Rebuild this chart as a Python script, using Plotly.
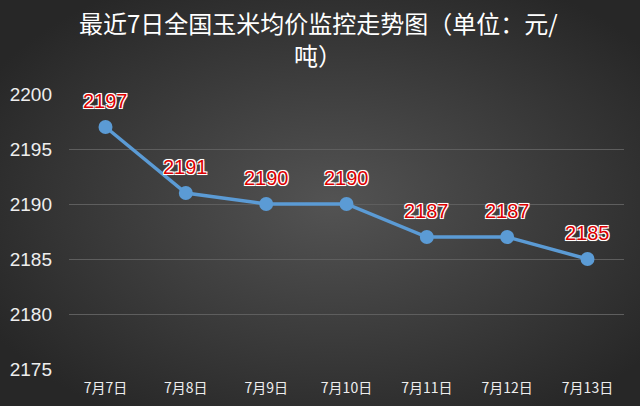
import base64
import plotly.graph_objects as go

# data
dates = ['7月7日', '7月8日', '7月9日', '7月10日', '7月11日', '7月12日', '7月13日']
prices = [2197, 2191, 2190, 2190, 2187, 2187, 2185]
y_ticks = [2175, 2180, 2185, 2190, 2195, 2200]
title_lines = ['最近7日全国玉米均价监控走势图（单位：元/', '吨）']

W, H = 640, 406
L, R, T, B = 69, 16, 94, 37
pw, ph = W - L - R, H - T - B

# dark radial backdrop, done as an inline svg image behind everything
svg = (
    '<svg xmlns="http://www.w3.org/2000/svg" width="640" height="406">'
    '<defs><radialGradient id="g" cx="52%" cy="50%" r="62%">'
    '<stop offset="0%" stop-color="#535353"/>'
    '<stop offset="100%" stop-color="#272727"/>'
    '</radialGradient></defs>'
    '<rect width="640" height="406" fill="url(#g)"/></svg>'
)
bg_src = 'data:image/svg+xml;base64,' + base64.b64encode(svg.encode()).decode()

fig = go.Figure()

fig.add_trace(go.Scatter(
    x=dates, y=prices,
    mode='lines+markers',
    line=dict(color='#5b9bd5', width=3.5),
    marker=dict(color='#5b9bd5', size=14),
    showlegend=False,
    hoverinfo='skip',
))

# red value labels with a white outline, lifted above each point
outline = '1px 1px 0 #fff, -1px -1px 0 #fff, 1px -1px 0 #fff, -1px 1px 0 #fff, 0 0 2px #fff'
for d, p in zip(dates, prices):
    fig.add_annotation(
        x=d, y=p, text=str(p), showarrow=False, yshift=26,
        font=dict(family='Liberation Sans, Arial', size=20, color='#dd0000',
                  shadow=outline),
    )

fig.add_layout_image(dict(
    source=bg_src, xref='paper', yref='paper',
    x=-L / pw, y=1 + T / ph, sizex=W / pw, sizey=H / ph,
    xanchor='left', yanchor='top', sizing='stretch', layer='below',
))

# title as two centred lines
for i, line in enumerate(title_lines):
    fig.add_annotation(
        text=line, xref='paper', yref='paper',
        x=(W / 2 - 2 - L) / pw, y=1 + (T - 23 - 32 * i) / ph,
        xanchor='center', yanchor='middle', showarrow=False,
        font=dict(family='Noto Sans CJK SC', size=24, color='#ffffff'),
    )

fig.update_layout(
    width=W, height=H,
    margin=dict(l=L, r=R, t=T, b=B, autoexpand=False),
    paper_bgcolor='#3a3a3a',
    plot_bgcolor='rgba(0,0,0,0)',
    font=dict(family='Liberation Sans, Arial', color='#e8e8e8'),
)

fig.update_xaxes(
    type='category', showgrid=False, zeroline=False, showline=False,
    ticks='', automargin=False, ticklabelstandoff=9,
    tickfont=dict(family='Noto Sans CJK SC', size=14, color='#eeeeee'),
)
fig.update_yaxes(
    range=[2175, 2200], tickvals=y_ticks, showgrid=True,
    gridcolor='#5e5e5e', gridwidth=1, zeroline=False, showline=False,
    ticks='', ticklabelstandoff=16, automargin=False,
    tickfont=dict(family='Liberation Sans, Arial', size=19, color='#eeeeee'),
)

fig.write_html('out.html', config={'displayModeBar': False},
               post_script="document.body.style.margin='0';")
